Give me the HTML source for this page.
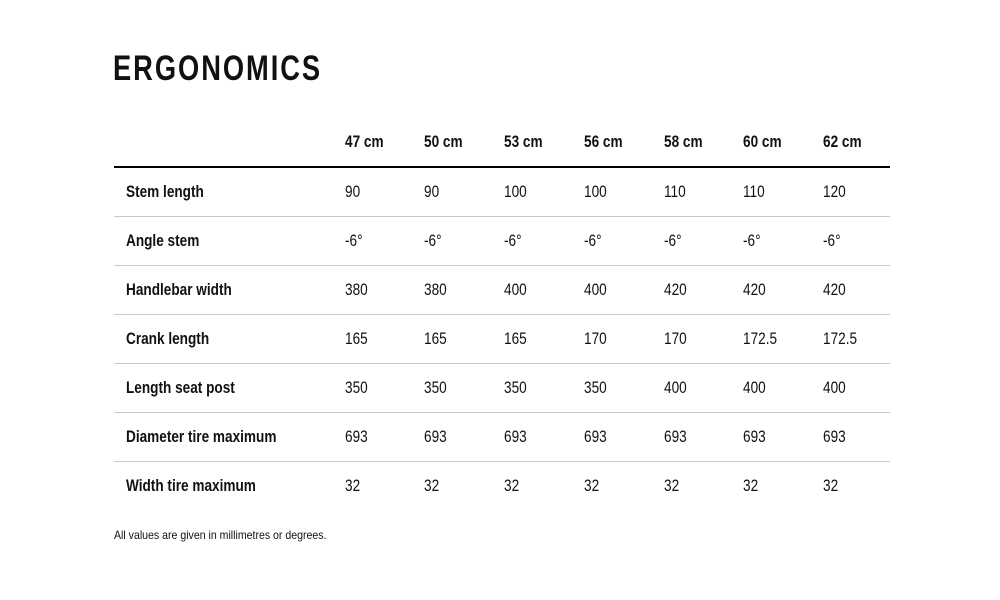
<!DOCTYPE html>
<html><head><style>
body{margin:0;width:1000px;height:600px;background:#fff;position:relative;overflow:hidden;font-family:"Liberation Sans",sans-serif;color:#111}
.t{position:absolute;white-space:nowrap;line-height:20px;font-size:17px;transform:scaleX(0.8);transform-origin:0 50%}
.b{font-weight:bold}
.l{position:absolute;left:114px;width:776px;height:1px;background:#c8c8c8}
h1{position:absolute;left:113px;top:49px;margin:0;font-size:35px;line-height:40px;letter-spacing:2.5px;font-weight:bold;transform:scaleX(0.78);transform-origin:0 50%;white-space:nowrap}
</style></head><body>
<h1>ERGONOMICS</h1>
<div style="position:absolute;left:114px;top:166px;width:776px;height:2px;background:#000"></div>
<div class="l" style="top:216px"></div><div class="l" style="top:265px"></div><div class="l" style="top:314px"></div><div class="l" style="top:363px"></div><div class="l" style="top:412px"></div><div class="l" style="top:461px"></div>
<div id="c"></div>
<div class="t" style="left:114px;top:525px;font-size:12px;transform:scaleX(0.88)">All values are given in millimetres or degrees.</div>
<script>
var xs=[345,424,504,584,664,743,823];
var hdr=["47 cm","50 cm","53 cm","56 cm","58 cm","60 cm","62 cm"];
var rows=[["Stem length","90","90","100","100","110","110","120"],["Angle stem","-6°","-6°","-6°","-6°","-6°","-6°","-6°"],["Handlebar width","380","380","400","400","420","420","420"],["Crank length","165","165","165","170","170","172.5","172.5"],["Length seat post","350","350","350","350","400","400","400"],["Diameter tire maximum","693","693","693","693","693","693","693"],["Width tire maximum","32","32","32","32","32","32","32"]];
var h="";
hdr.forEach(function(s,i){h+='<div class="t b" style="left:'+xs[i]+'px;top:132px">'+s+'</div>';});
rows.forEach(function(r,j){var y=182+49*j;h+='<div class="t b" style="left:126px;top:'+y+'px">'+r[0]+'</div>';for(var i=1;i<8;i++)h+='<div class="t" style="left:'+xs[i-1]+'px;top:'+y+'px">'+r[i]+'</div>';});
document.getElementById("c").innerHTML=h;
</script>
</body></html>
